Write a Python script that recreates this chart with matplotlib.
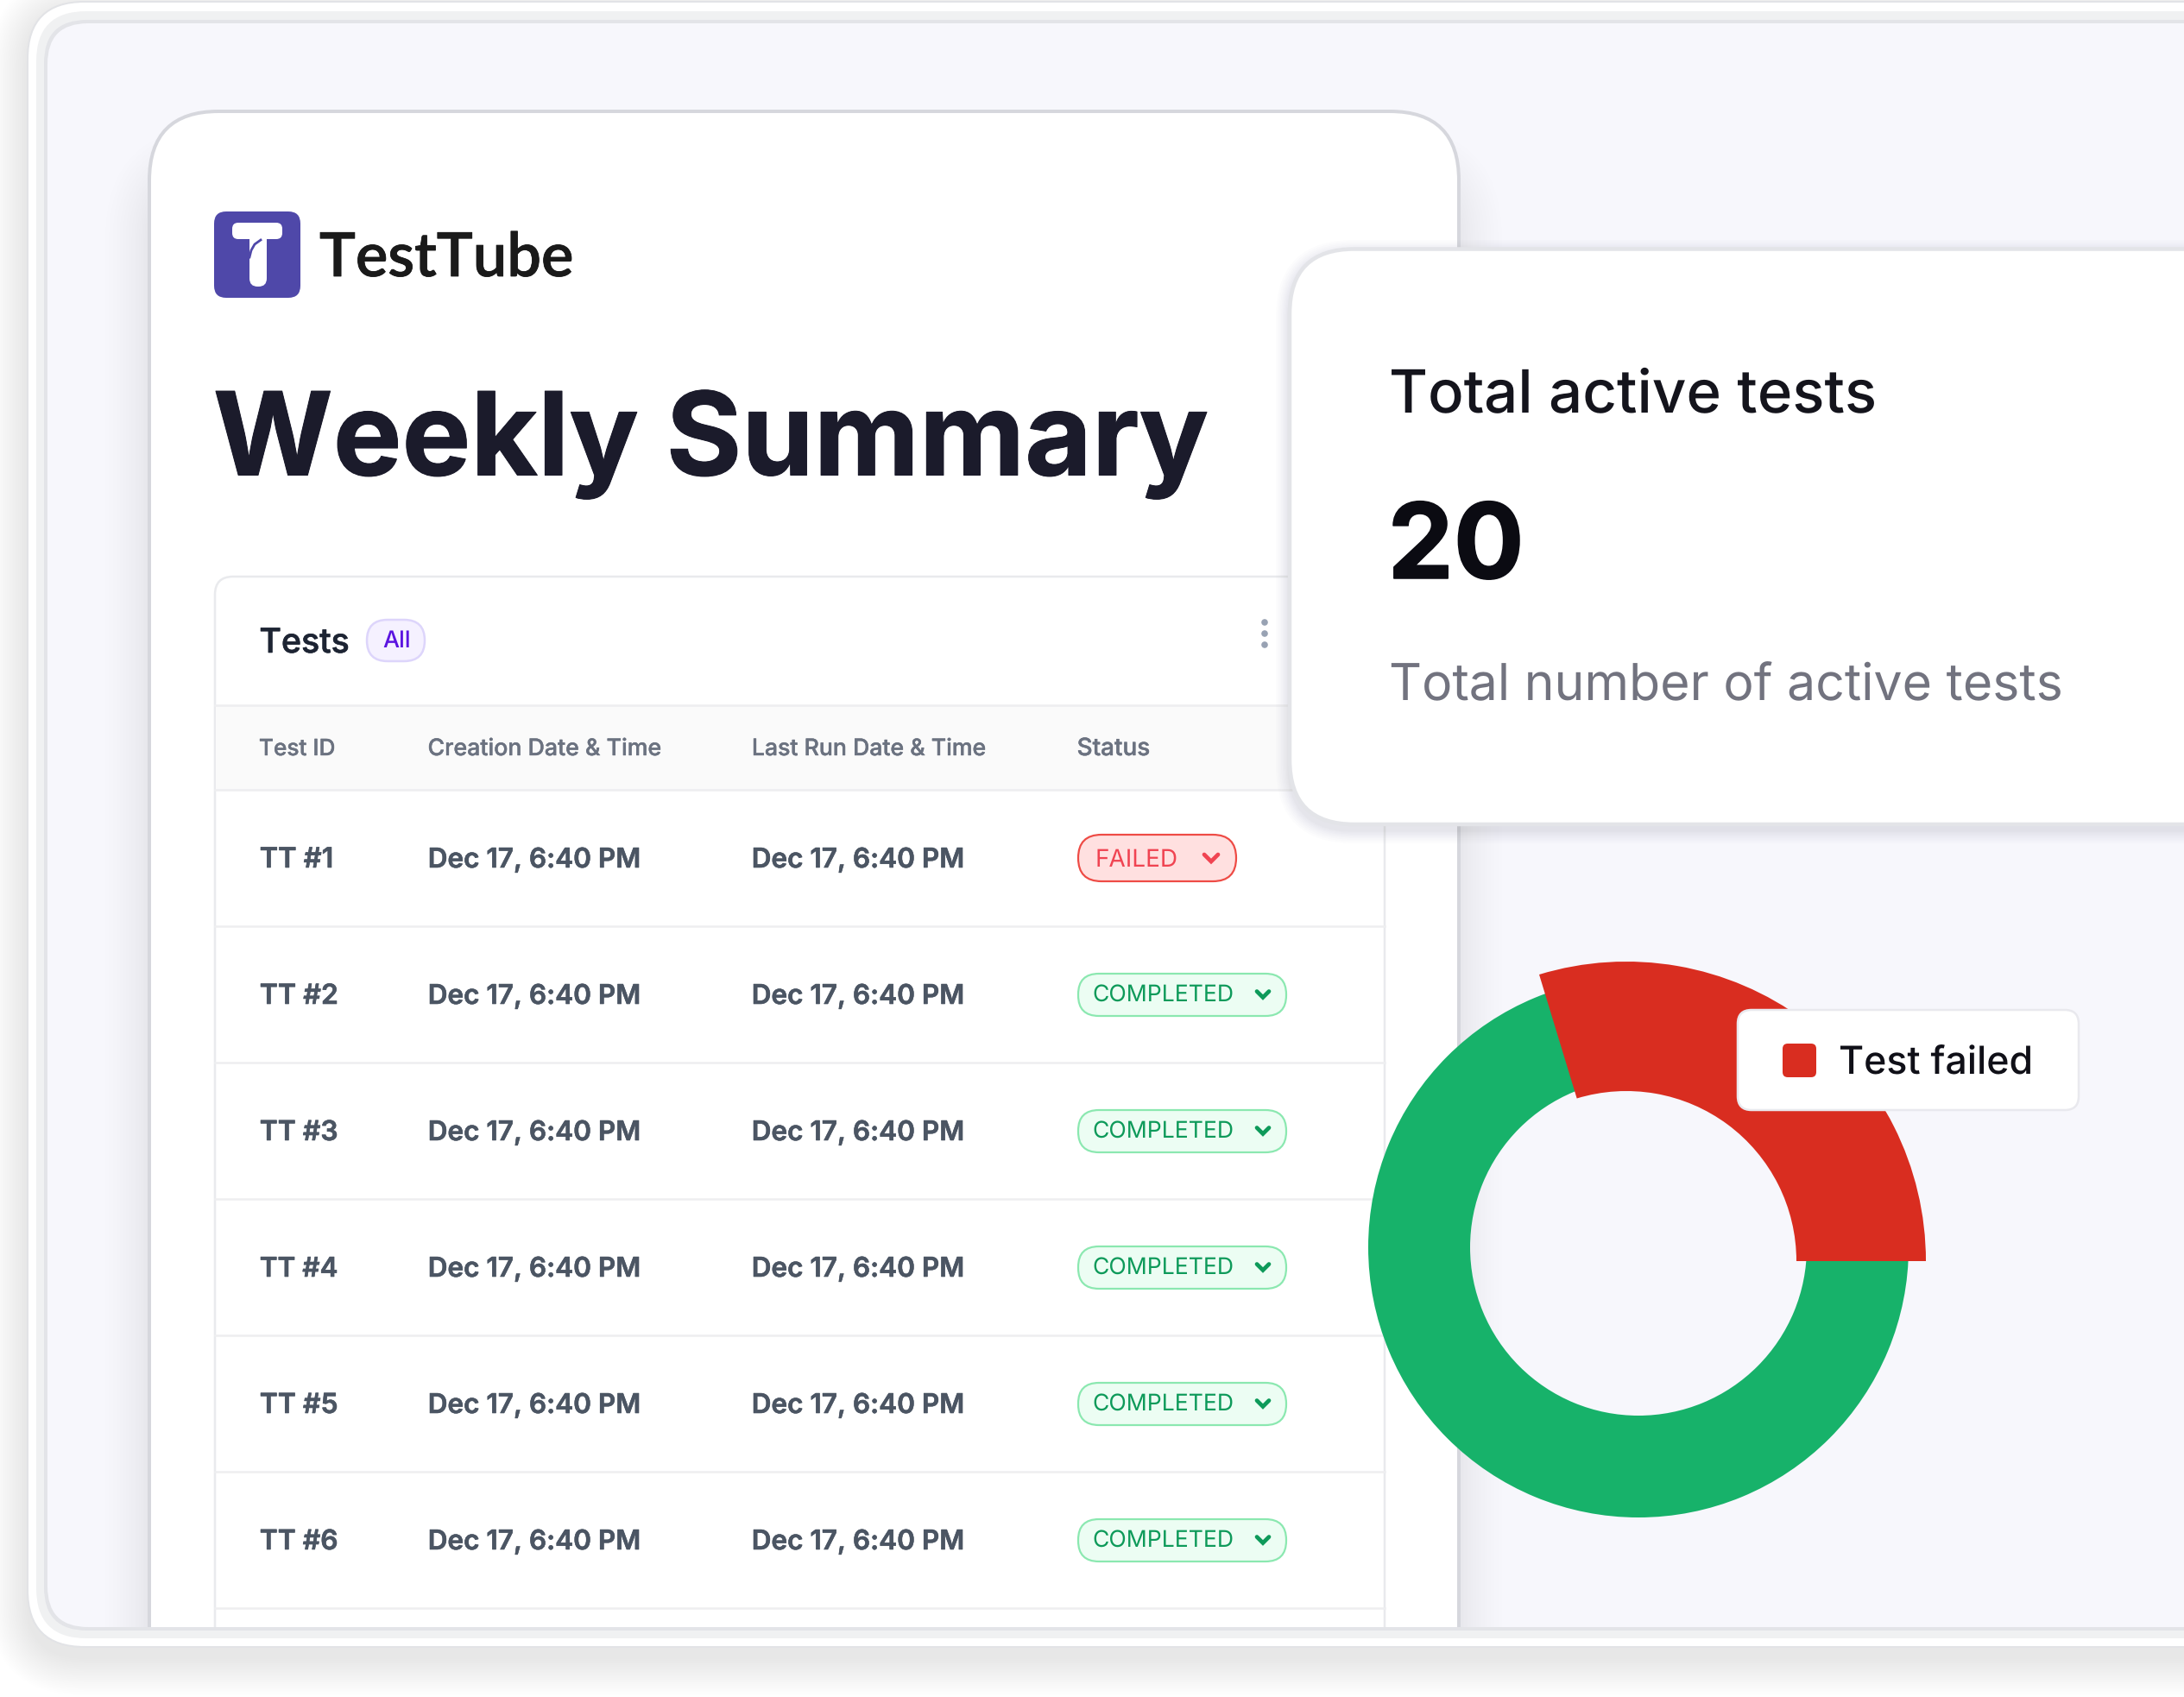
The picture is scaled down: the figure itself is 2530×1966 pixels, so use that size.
import matplotlib
matplotlib.use("Agg")
import matplotlib.pyplot as plt
import matplotlib.patheffects as pe
from matplotlib.patches import FancyBboxPatch, Circle
from matplotlib.font_manager import FontProperties
from matplotlib.textpath import TextPath

plt.rcParams["text.hinting"] = "no_hinting"
plt.rcParams["text.hinting_factor"] = 1

W, H = 2530, 1966

# ---------- data ----------
donut_labels = ["Test failed", "Test completed"]
donut_values = [29.7, 70.3]
table_headers = ["Test ID", "Creation Date & Time", "Last Run Date & Time", "Status"]
test_ids = ["TT #1", "TT #2", "TT #3", "TT #4", "TT #5", "TT #6"]
created = ["Dec 17, 6:40 PM"] * 6
last_run = ["Dec 17, 6:40 PM"] * 6
statuses = ["FAILED", "COMPLETED", "COMPLETED", "COMPLETED", "COMPLETED", "COMPLETED"]
total_active = "20"

fig = plt.figure(figsize=(W / 100, H / 100), dpi=100, facecolor="white")
ax = fig.add_axes([0, 0, 1, 1])
ax.set_aspect("equal")
ax.axis("off")

_z = [1]
def nz():
    _z[0] += 1
    return _z[0]

def Y(y):
    return H - y

def rrect(x0, y0, x1, y1, r, fc="white", ec="none", lw=0, alpha=None, clip=None):
    p = FancyBboxPatch((x0, Y(y1)), x1 - x0, y1 - y0,
                       boxstyle=f"round,pad=0,rounding_size={r}",
                       fc=fc, ec=ec, lw=lw * 0.72, alpha=alpha, zorder=nz())
    ax.add_patch(p)
    if clip is not None:
        p.set_clip_path(clip)
    return p

def label(x, y, s, width, color, weight="regular", family="Inter", stroke=0):
    """Left ink edge at x, baseline at y, ink width scaled to width."""
    fp = FontProperties(family=family, weight=weight, size=100)
    ext = TextPath((0, 0), s, prop=fp).get_extents()
    size_px = width / (ext.width / 100)
    t = ax.text(x - ext.x0 / 100 * size_px, Y(y), s, fontsize=size_px * 0.72, color=color,
                family=family, weight=weight, ha="left", va="baseline", zorder=nz())
    if stroke:
        t.set_path_effects([pe.withStroke(linewidth=stroke * 0.72, foreground=color)])
    return t

def shadow(x0, y0, x1, y1, r, spread, n, color, alpha, dy=0, clip=None, power=1.6):
    for i in range(n, 0, -1):
        g = spread * (i / n) ** power
        rrect(x0 - g, y0 - g + dy, x1 + g, y1 + g + dy, r + g, fc=color, alpha=alpha, clip=clip)

# ---------- outer device frame ----------
shadow(32, 2, 2800, 1908, 65, 44, 24, "#333344", 0.0042, dy=12, power=1.0)
rrect(32, 2, 2800, 1908, 66, fc="white", ec="#e2e3e6", lw=2)
rrect(42, 13, 2800, 1898, 58, fc="#f0f1f2")
rrect(51, 23, 2800, 1889, 50, fc="#e3e4e8")
inner = rrect(55, 27, 2800, 1885, 47, fc="#f7f7fc")

# ---------- main white card ----------
shadow(172, 127, 1690, 2100, 80, 50, 18, "#55556a", 0.0036, dy=70, clip=inner)
rrect(173, 129, 1690, 2100, 80, fc="white", ec="#d6d7dd", lw=4, clip=inner)

# logo
rrect(248, 245, 348, 345, 14, fc="#4f48a9")
rrect(269, 258, 327, 277, 7, fc="white")
rrect(289, 268, 309, 332, 9.5, fc="white")
ax.plot([289, 291, 295, 302], [Y(298), Y(290), Y(283), Y(278)], color="#4f48a9", lw=2, zorder=nz())
label(371, 320, "TestTube", 291, "#1a1a1a", weight="semibold", family="Lato", stroke=0.8)

label(250, 550.5, "Weekly Summary", 1148, "#1b1b2b", weight="bold", stroke=1)

# ---------- table ----------
table_x0, table_x1 = 249, 1604
rrect(table_x0, 668, table_x1, 2100, 21, fc="white", ec="#e9eaed", lw=2.5, clip=inner)
label(302, 756, "Tests", 101, "#1d2433", weight="medium", stroke=0.6)
rrect(425, 718, 492, 766, 24, fc="#f5f1ff", ec="#ddd5fb", lw=2.5)
label(444, 750, "All", 30, "#5b14e0", weight="medium")
for yy in (721, 734, 747):
    ax.add_patch(Circle((1465, Y(yy)), 3.8, fc="#98a2b3", ec="none", zorder=nz()))

header_y0, header_y1, row_h = 817, 915, 158
ax.fill_between([table_x0 + 1, table_x1 - 1], Y(header_y1), Y(header_y0),
                color="#fafafa", lw=0, zorder=nz())
ax.plot([table_x0, table_x1], [Y(header_y0)] * 2, color="#eeeef0", lw=1.8, zorder=nz())

col_x = [301, 497, 873, 1249]
header_w = [86, 268, 268, 82]
for x, s, w in zip(col_x, table_headers, header_w):
    label(x, 875, s, w, "#6b7280", weight="medium", stroke=0.4)

def chevron(cx, cy, color, half):
    ax.plot([cx - half, cx, cx + half], [Y(cy - half / 2), Y(cy + half / 2), Y(cy - half / 2)],
            color=color, lw=3.4, solid_capstyle="round", solid_joinstyle="miter", zorder=nz())

for i, (tid, c, l, st) in enumerate(zip(test_ids, created, last_run, statuses)):
    top = header_y1 + i * row_h
    cy = top + row_h / 2
    ax.plot([table_x0, table_x1], [Y(top)] * 2, color="#eeeef0", lw=1.8, zorder=nz())
    base = cy + 11
    label(302, base, tid, 88 if tid[-1] != "1" else 82, "#4b5563", weight="semibold", stroke=0.6)
    label(498, base, c, 242, "#4b5563", weight="semibold", stroke=0.6)
    label(873, base, l, 242, "#4b5563", weight="semibold", stroke=0.6)
    if st == "FAILED":
        rrect(1249, cy - 27, 1432, cy + 27, 27, fc="#ffe0e0", ec="#ee4b45", lw=2.2)
        label(1271, cy + 10, st, 92, "#f04452")
        chevron(1403, cy, "#f04452", 8)
    else:
        rrect(1249, cy - 24, 1490, cy + 25, 24, fc="#ecfdf3", ec="#8be8b0", lw=2.2)
        label(1267, cy + 8, st, 161, "#0e9a5a")
        chevron(1463, cy, "#0e9a5a", 7)
ax.plot([table_x0, table_x1], [Y(header_y1 + 6 * row_h)] * 2, color="#eeeef0", lw=1.8, zorder=nz())

# ---------- donut ----------
green, red = "#17b26a", "#d92d20"
z_donut = nz()
ax.pie([sum(donut_values)], colors=[green], radius=313, center=(1898, Y(1445)),
       wedgeprops=dict(width=313 - 195, lw=0, zorder=z_donut), frame=True)
z_red = nz()
ax.pie(donut_values, colors=[red, "none"], startangle=0, radius=347, center=(1884, Y(1461)),
       wedgeprops=dict(width=347 - 197, lw=0, zorder=z_red), frame=True)

# ---------- stat card ----------
shadow(1492, 286, 2900, 957, 76, 14, 10, "#44445a", 0.011, dy=6, clip=inner)
rrect(1494, 288.5, 2900, 955, 75, fc="white", ec="#e3e4e8", lw=4.5)
label(1612, 478, "Total active tests", 559, "#14141c", weight="medium")
label(1614, 670, total_active, 146, "#0b0b12", weight="bold", stroke=1.5)
label(1612, 811, "Total number of active tests", 775, "#72737f")

# ---------- legend chip ----------
rrect(2013, 1170, 2408, 1286, 16, fc="white", ec="#e9e9ee", lw=2.5)
rrect(2065, 1209, 2104, 1248, 6, fc=red)
label(2132, 1243, donut_labels[0], 220, "#101018", weight="medium")

ax.set_xlim(0, W)
ax.set_ylim(0, H)
fig.savefig("out.png", dpi=100)
